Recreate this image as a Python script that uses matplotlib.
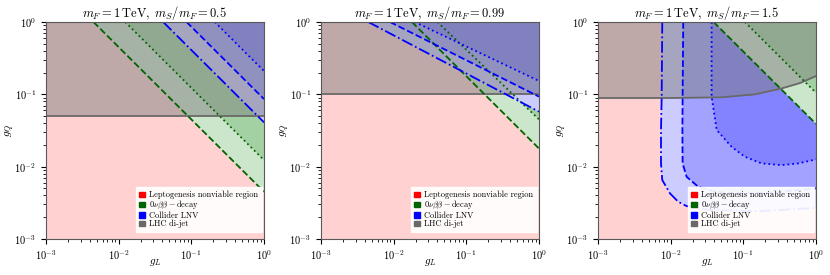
import matplotlib.pyplot as plt
from matplotlib.patches import Patch

plt.rcParams.update({
    'font.family': 'serif',
    'font.serif': ['cmr10', 'DejaVu Serif'],
    'mathtext.fontset': 'cm',
    'axes.formatter.use_mathtext': True,
})

titles = [r'$m_F = 1\,\mathrm{TeV},\ m_S/m_F = 0.5$',
          r'$m_F = 1\,\mathrm{TeV},\ m_S/m_F = 0.99$',
          r'$m_F = 1\,\mathrm{TeV},\ m_S/m_F = 1.5$']

# boundaries, as (g_L, g_Q) points running from the top edge to the right edge
# panel 1: m_S/m_F = 0.5
p1_bb_dashed_gL = [0.0045, 1.0]
p1_bb_dashed_gQ = [1.0, 0.0045]
p1_bb_dotted_gL = [0.0123, 1.0]
p1_bb_dotted_gQ = [1.0, 0.0123]
p1_lnv_dashdot_gL = [0.041, 1.0]
p1_lnv_dashdot_gQ = [1.0, 0.041]
p1_lnv_dashed_gL = [0.086, 1.0]
p1_lnv_dashed_gQ = [1.0, 0.086]
p1_lnv_dotted_gL = [0.21, 1.0]
p1_lnv_dotted_gQ = [1.0, 0.21]
p1_lhc_gL = [1e-3, 1.0]
p1_lhc_gQ = [0.05, 0.05]

# panel 2: m_S/m_F = 0.99
p2_bb_dashed_gL = [0.0178, 1.0]
p2_bb_dashed_gQ = [1.0, 0.0178]
p2_bb_dotted_gL = [0.040, 1.0]
p2_bb_dotted_gQ = [1.0, 0.045]
p2_lnv_dashdot_gL = [0.00447, 1.0]
p2_lnv_dashdot_gQ = [1.0, 0.0575]
p2_lnv_dashed_gL = [0.0089, 1.0]
p2_lnv_dashed_gQ = [1.0, 0.093]
p2_lnv_dotted_gL = [0.0195, 1.0]
p2_lnv_dotted_gQ = [1.0, 0.153]
p2_lhc_gL = [1e-3, 1.0]
p2_lhc_gQ = [0.1, 0.1]

# panel 3: m_S/m_F = 1.5
p3_bb_dashed_gL = [0.039, 1.0]
p3_bb_dashed_gQ = [1.0, 0.039]
p3_bb_dotted_gL = [0.105, 1.0]
p3_bb_dotted_gQ = [1.0, 0.105]
p3_lnv_dashdot_gL = [0.00766, 0.00752, 0.00736, 0.00736, 0.00766, 0.00977, 0.0127,
                     0.0166, 0.0348, 0.169, 1.0]
p3_lnv_dashdot_gQ = [1.0, 0.0927, 0.0321, 0.0111, 0.00653, 0.00428, 0.00327,
                     0.00285, 0.00251, 0.00243, 0.00269]
p3_lnv_dashed_gL = [0.0149, 0.0146, 0.0145, 0.0146, 0.0166, 0.0240, 0.0406, 0.0948, 0.245, 1.0]
p3_lnv_dashed_gQ = [1.0, 0.0927, 0.0321, 0.0111, 0.00724, 0.00526, 0.00450, 0.00428, 0.00436, 0.00501]
p3_lnv_dotted_gL = [0.0366, 0.0366, 0.0430, 0.0690, 0.105, 0.179, 0.337, 0.569, 1.0]
p3_lnv_dotted_gQ = [1.0, 0.0927, 0.0321, 0.0188, 0.0137, 0.0111, 0.0105, 0.0111, 0.0126]
p3_lhc_gL = [1e-3, 0.01, 0.05, 0.145, 0.34, 0.6, 1.0]
p3_lhc_gQ = [0.089, 0.089, 0.091, 0.100, 0.121, 0.143, 0.179]

panels = [
    dict(bb=[(p1_bb_dashed_gL, p1_bb_dashed_gQ), (p1_bb_dotted_gL, p1_bb_dotted_gQ)],
         lnv=[(p1_lnv_dashdot_gL, p1_lnv_dashdot_gQ), (p1_lnv_dashed_gL, p1_lnv_dashed_gQ),
              (p1_lnv_dotted_gL, p1_lnv_dotted_gQ)],
         lhc=(p1_lhc_gL, p1_lhc_gQ), green_on_top=False),
    dict(bb=[(p2_bb_dashed_gL, p2_bb_dashed_gQ), (p2_bb_dotted_gL, p2_bb_dotted_gQ)],
         lnv=[(p2_lnv_dashdot_gL, p2_lnv_dashdot_gQ), (p2_lnv_dashed_gL, p2_lnv_dashed_gQ),
              (p2_lnv_dotted_gL, p2_lnv_dotted_gQ)],
         lhc=(p2_lhc_gL, p2_lhc_gQ), green_on_top=False),
    dict(bb=[(p3_bb_dashed_gL, p3_bb_dashed_gQ), (p3_bb_dotted_gL, p3_bb_dotted_gQ)],
         lnv=[(p3_lnv_dashdot_gL, p3_lnv_dashdot_gQ), (p3_lnv_dashed_gL, p3_lnv_dashed_gQ),
              (p3_lnv_dotted_gL, p3_lnv_dotted_gQ)],
         lhc=(p3_lhc_gL, p3_lhc_gQ), green_on_top=True),
]

pink = '#ffd1d1'
green_fills = ['#cce6cc', '#a3d1a3']
blue_fills = ['#ccccff', '#a3a3ff', '#8383ff']
green_styles = ['--', ':']
blue_styles = ['-.', '--', ':']

legend_handles = [Patch(color='red'), Patch(color='darkgreen'),
                  Patch(color='blue'), Patch(color='dimgray')]
legend_labels = ['Leptogenesis nonviable region', r'$0\nu\beta\beta-$decay',
                 'Collider LNV', 'LHC di-jet']


def fill_above(ax, gl, gq, color, z):
    # region between the boundary and the top-right corner
    ax.fill(list(gl) + [1.0], list(gq) + [1.0], color=color, lw=0, zorder=z)


fig = plt.figure(figsize=(8.3, 2.75), dpi=100)
lefts = [46, 321, 598]

for i, p in enumerate(panels):
    ax = fig.add_axes([lefts[i] / 830, 36 / 275, 218 / 830, 217 / 275])
    ax.set_xscale('log')
    ax.set_yscale('log')
    ax.set_xlim(1e-3, 1)
    ax.set_ylim(1e-3, 1)
    ax.set_facecolor(pink)

    zg, zb = (1.2, 1.1) if p['green_on_top'] else (1.1, 1.2)
    for (gl, gq), c in zip(p['bb'], green_fills):
        fill_above(ax, gl, gq, c, zg)
    for (gl, gq), c in zip(p['lnv'], blue_fills):
        fill_above(ax, gl, gq, c, zb)

    lgl, lgq = p['lhc']
    ax.fill_between(lgl, lgq, 1.0, color='gray', alpha=0.5, lw=0, zorder=2)
    ax.plot(lgl, lgq, color='dimgray', lw=1.3, zorder=3)

    for (gl, gq), ls in zip(p['bb'], green_styles):
        ax.plot(gl, gq, color='darkgreen', ls=ls, lw=1.3, zorder=4)
    for (gl, gq), ls in zip(p['lnv'], blue_styles):
        ax.plot(gl, gq, color='blue', ls=ls, lw=1.3, zorder=4)

    ax.set_title(titles[i], fontsize=9, pad=3)
    ax.set_xlabel(r'$g_L$', fontsize=8)
    ax.set_ylabel(r'$g_Q$', fontsize=8)
    ax.xaxis.set_label_coords(0.5, -0.085)
    ax.yaxis.set_label_coords(-0.135, 0.5)
    ax.tick_params(which='both', labelsize=7.5, direction='out')
    ax.tick_params(which='major', length=3.5)
    ax.tick_params(which='minor', length=2)
    for s in ax.spines.values():
        s.set_color('0.35')
        s.set_zorder(5)

    ax.legend(legend_handles, legend_labels, loc='lower right',
              bbox_to_anchor=(1 - 2 / 218, 7 / 217), borderaxespad=0, fontsize=6,
              handlelength=0.7, handleheight=0.6, handletextpad=0.5,
              labelspacing=0.0, borderpad=0.45,
              fancybox=False, framealpha=0.92, edgecolor='white')

fig.savefig('out.png', dpi=100)
